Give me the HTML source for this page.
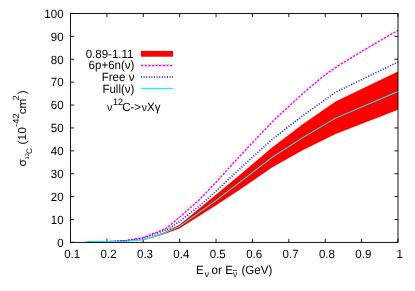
<!DOCTYPE html>
<html><head><meta charset="utf-8"><title>chart</title>
<style>html,body{margin:0;padding:0;background:#fff;}body{width:415px;height:291px;overflow:hidden;position:relative;font-family:"Liberation Sans",sans-serif;}</style>
</head><body>
<svg width="415" height="291" viewBox="0 0 415 291" style="position:absolute;left:0;top:0;font-family:'Liberation Sans',sans-serif">
<rect width="415" height="291" fill="#fff"/>
<g stroke="#000" stroke-width="0.9" fill="none">
<line x1="70.50" y1="242.4" x2="70.50" y2="238.8"/><line x1="70.50" y1="13.5" x2="70.50" y2="17.1"/>
<line x1="106.89" y1="242.4" x2="106.89" y2="238.8"/><line x1="106.89" y1="13.5" x2="106.89" y2="17.1"/>
<line x1="143.28" y1="242.4" x2="143.28" y2="238.8"/><line x1="143.28" y1="13.5" x2="143.28" y2="17.1"/>
<line x1="179.67" y1="242.4" x2="179.67" y2="238.8"/><line x1="179.67" y1="13.5" x2="179.67" y2="17.1"/>
<line x1="216.06" y1="242.4" x2="216.06" y2="238.8"/><line x1="216.06" y1="13.5" x2="216.06" y2="17.1"/>
<line x1="252.44" y1="242.4" x2="252.44" y2="238.8"/><line x1="252.44" y1="13.5" x2="252.44" y2="17.1"/>
<line x1="288.83" y1="242.4" x2="288.83" y2="238.8"/><line x1="288.83" y1="13.5" x2="288.83" y2="17.1"/>
<line x1="325.22" y1="242.4" x2="325.22" y2="238.8"/><line x1="325.22" y1="13.5" x2="325.22" y2="17.1"/>
<line x1="361.61" y1="242.4" x2="361.61" y2="238.8"/><line x1="361.61" y1="13.5" x2="361.61" y2="17.1"/>
<line x1="398.00" y1="242.4" x2="398.00" y2="238.8"/><line x1="398.00" y1="13.5" x2="398.00" y2="17.1"/>
<line x1="70.5" y1="242.40" x2="74.1" y2="242.40"/><line x1="398.0" y1="242.40" x2="394.4" y2="242.40"/>
<line x1="70.5" y1="219.51" x2="74.1" y2="219.51"/><line x1="398.0" y1="219.51" x2="394.4" y2="219.51"/>
<line x1="70.5" y1="196.62" x2="74.1" y2="196.62"/><line x1="398.0" y1="196.62" x2="394.4" y2="196.62"/>
<line x1="70.5" y1="173.73" x2="74.1" y2="173.73"/><line x1="398.0" y1="173.73" x2="394.4" y2="173.73"/>
<line x1="70.5" y1="150.84" x2="74.1" y2="150.84"/><line x1="398.0" y1="150.84" x2="394.4" y2="150.84"/>
<line x1="70.5" y1="127.95" x2="74.1" y2="127.95"/><line x1="398.0" y1="127.95" x2="394.4" y2="127.95"/>
<line x1="70.5" y1="105.06" x2="74.1" y2="105.06"/><line x1="398.0" y1="105.06" x2="394.4" y2="105.06"/>
<line x1="70.5" y1="82.17" x2="74.1" y2="82.17"/><line x1="398.0" y1="82.17" x2="394.4" y2="82.17"/>
<line x1="70.5" y1="59.28" x2="74.1" y2="59.28"/><line x1="398.0" y1="59.28" x2="394.4" y2="59.28"/>
<line x1="70.5" y1="36.39" x2="74.1" y2="36.39"/><line x1="398.0" y1="36.39" x2="394.4" y2="36.39"/>
<line x1="70.5" y1="13.50" x2="74.1" y2="13.50"/><line x1="398.0" y1="13.50" x2="394.4" y2="13.50"/>
</g>
<polygon points="85.0,242.4 143.3,239.5 163.0,232.8 179.5,224.7 215.8,194.8 241.2,173.7 272.4,147.2 303.1,124.0 335.6,101.5 398.0,71.4 398.0,109.8 335.6,134.0 303.1,150.0 272.4,167.2 241.2,188.8 215.8,205.5 179.5,228.5 163.0,234.6 143.3,240.2 85.0,242.4" fill="#ff0000"/>
<rect x="141" y="50.9" width="32" height="5.8" fill="#ff0000"/>
<line x1="141" y1="65.5" x2="173" y2="65.5" stroke="#ff00ff" stroke-width="1.3" stroke-dasharray="2.4 1.2"/>
<line x1="141" y1="77" x2="173" y2="77" stroke="#0000ff" stroke-width="1.5" stroke-dasharray="1 1.6"/>
<line x1="141" y1="88.5" x2="173" y2="88.5" stroke="#00ffff" stroke-width="1.2"/>
<polyline points="88.0,242.0 106.8,241.6 125.6,240.5 143.3,237.5 166.0,228.5 179.5,217.3 198.7,200.4 215.8,182.5 241.2,154.6 272.4,121.6 303.1,93.2 323.9,75.7 338.4,65.6 355.0,55.5 375.0,43.6 398.0,30.3" fill="none" stroke="#ff00ff" stroke-width="1.4" stroke-dasharray="2.4 1.2"/>
<polyline points="88.0,242.0 106.8,241.8 125.6,240.9 143.3,238.3 168.9,228.8 179.5,221.4 199.3,206.0 215.8,191.3 241.2,167.5 272.4,139.2 303.1,115.4 335.6,92.3 398.0,62.0" fill="none" stroke="#0000ff" stroke-width="1.5" stroke-dasharray="1 1.7"/>
<polyline points="85.0,241.7 106.8,241.6 125.6,241.2 143.3,239.8 163.0,233.6 179.5,226.4 215.8,200.7 241.2,181.2 272.4,157.1 303.1,137.4 335.6,118.1 398.0,91.4" fill="none" stroke="#00ffff" stroke-width="1.05"/>
<rect x="70.5" y="13.5" width="327.5" height="228.9" fill="none" stroke="#000" stroke-width="0.92"/>
<g fill="#000" style="filter:grayscale(1);text-rendering:geometricPrecision">
<text transform="translate(63.6,246.7) scale(0.96,1)" text-anchor="end" font-size="12">0</text>
<text transform="translate(63.6,223.81) scale(0.96,1)" text-anchor="end" font-size="12">10</text>
<text transform="translate(63.6,200.92) scale(0.96,1)" text-anchor="end" font-size="12">20</text>
<text transform="translate(63.6,178.03) scale(0.96,1)" text-anchor="end" font-size="12">30</text>
<text transform="translate(63.6,155.14) scale(0.96,1)" text-anchor="end" font-size="12">40</text>
<text transform="translate(63.6,132.25) scale(0.96,1)" text-anchor="end" font-size="12">50</text>
<text transform="translate(63.6,109.36) scale(0.96,1)" text-anchor="end" font-size="12">60</text>
<text transform="translate(63.6,86.47) scale(0.96,1)" text-anchor="end" font-size="12">70</text>
<text transform="translate(63.6,63.58) scale(0.96,1)" text-anchor="end" font-size="12">80</text>
<text transform="translate(63.6,40.69) scale(0.96,1)" text-anchor="end" font-size="12">90</text>
<text transform="translate(63.6,17.8) scale(0.96,1)" text-anchor="end" font-size="12">100</text>
<text transform="translate(72.2,257.8) scale(0.96,1)" text-anchor="middle" font-size="12">0.1</text>
<text transform="translate(108.59,257.8) scale(0.96,1)" text-anchor="middle" font-size="12">0.2</text>
<text transform="translate(144.98,257.8) scale(0.96,1)" text-anchor="middle" font-size="12">0.3</text>
<text transform="translate(181.37,257.8) scale(0.96,1)" text-anchor="middle" font-size="12">0.4</text>
<text transform="translate(217.76,257.8) scale(0.96,1)" text-anchor="middle" font-size="12">0.5</text>
<text transform="translate(254.14,257.8) scale(0.96,1)" text-anchor="middle" font-size="12">0.6</text>
<text transform="translate(290.53,257.8) scale(0.96,1)" text-anchor="middle" font-size="12">0.7</text>
<text transform="translate(326.92,257.8) scale(0.96,1)" text-anchor="middle" font-size="12">0.8</text>
<text transform="translate(363.31,257.8) scale(0.96,1)" text-anchor="middle" font-size="12">0.9</text>
<text transform="translate(399.7,257.8) scale(0.96,1)" text-anchor="middle" font-size="12">1</text>
<text transform="translate(133.5,57.5) scale(0.96,1)" text-anchor="end" font-size="12">0.89-1.11</text>
<text transform="translate(134.4,69.2) scale(0.96,1)" text-anchor="end" font-size="12">6p+6n(ν)</text>
<text transform="translate(134.4,80.9) scale(0.96,1)" text-anchor="end" font-size="12">Free ν</text>
<text transform="translate(134.4,92.6) scale(0.96,1)" text-anchor="end" font-size="12">Full(ν)</text>
<text transform="translate(107.0,110.9) scale(0.96,1)" text-anchor="start" font-size="11">ν</text>
<text transform="translate(112.9,105.0) scale(0.96,1)" text-anchor="start" font-size="9.4">12</text>
<text transform="translate(122.2,110.9) scale(0.96,1)" text-anchor="start" font-size="12">C-&gt;</text>
<text transform="translate(141.8,110.9) scale(0.96,1)" text-anchor="start" font-size="11">ν</text>
<text transform="translate(147.1,110.9) scale(0.96,1)" text-anchor="start" font-size="12">X</text>
<text transform="translate(154.7,110.9) scale(0.96,1)" text-anchor="start" font-size="12">γ</text>
<text transform="translate(196.0,273.7) scale(0.96,1)" text-anchor="start" font-size="12">E</text>
<text transform="translate(204.8,277.3) scale(0.96,1)" text-anchor="start" font-size="8.8">ν</text>
<text transform="translate(211.5,273.7) scale(0.96,1)" text-anchor="start" font-size="12">or</text>
<text transform="translate(225.3,273.7) scale(0.96,1)" text-anchor="start" font-size="12">E</text>
<text transform="translate(233.1,277.3) scale(0.96,1)" text-anchor="start" font-size="8.8">ν</text>
<text transform="translate(241.5,273.7) scale(0.96,1)" text-anchor="start" font-size="12">(GeV)</text>
<line x1="233.1" y1="270.5" x2="237.0" y2="270.5" stroke="#000" stroke-width="0.7"/>
<text transform="translate(26.3,166.5) scale(0.96,1) rotate(-90)" text-anchor="start" font-size="12">σ</text>
<text transform="translate(28.5,159.4) scale(0.96,1) rotate(-90)" text-anchor="start" font-size="5.6">12</text>
<text transform="translate(32.1,154.1) scale(0.96,1) rotate(-90)" text-anchor="start" font-size="8.3">C</text>
<text transform="translate(26.3,144.4) scale(0.96,1) rotate(-90)" text-anchor="start" font-size="12">(10</text>
<text transform="translate(19.0,126.9) scale(0.96,1) rotate(-90)" text-anchor="start" font-size="9.4">-42</text>
<text transform="translate(26.3,114.2) scale(0.96,1) rotate(-90)" text-anchor="start" font-size="11.6">cm</text>
<text transform="translate(19.0,100.6) scale(0.96,1) rotate(-90)" text-anchor="start" font-size="9.4">2</text>
<text transform="translate(26.3,94.2) scale(0.96,1) rotate(-90)" text-anchor="start" font-size="12">)</text>
</g>
</svg>
</body></html>
